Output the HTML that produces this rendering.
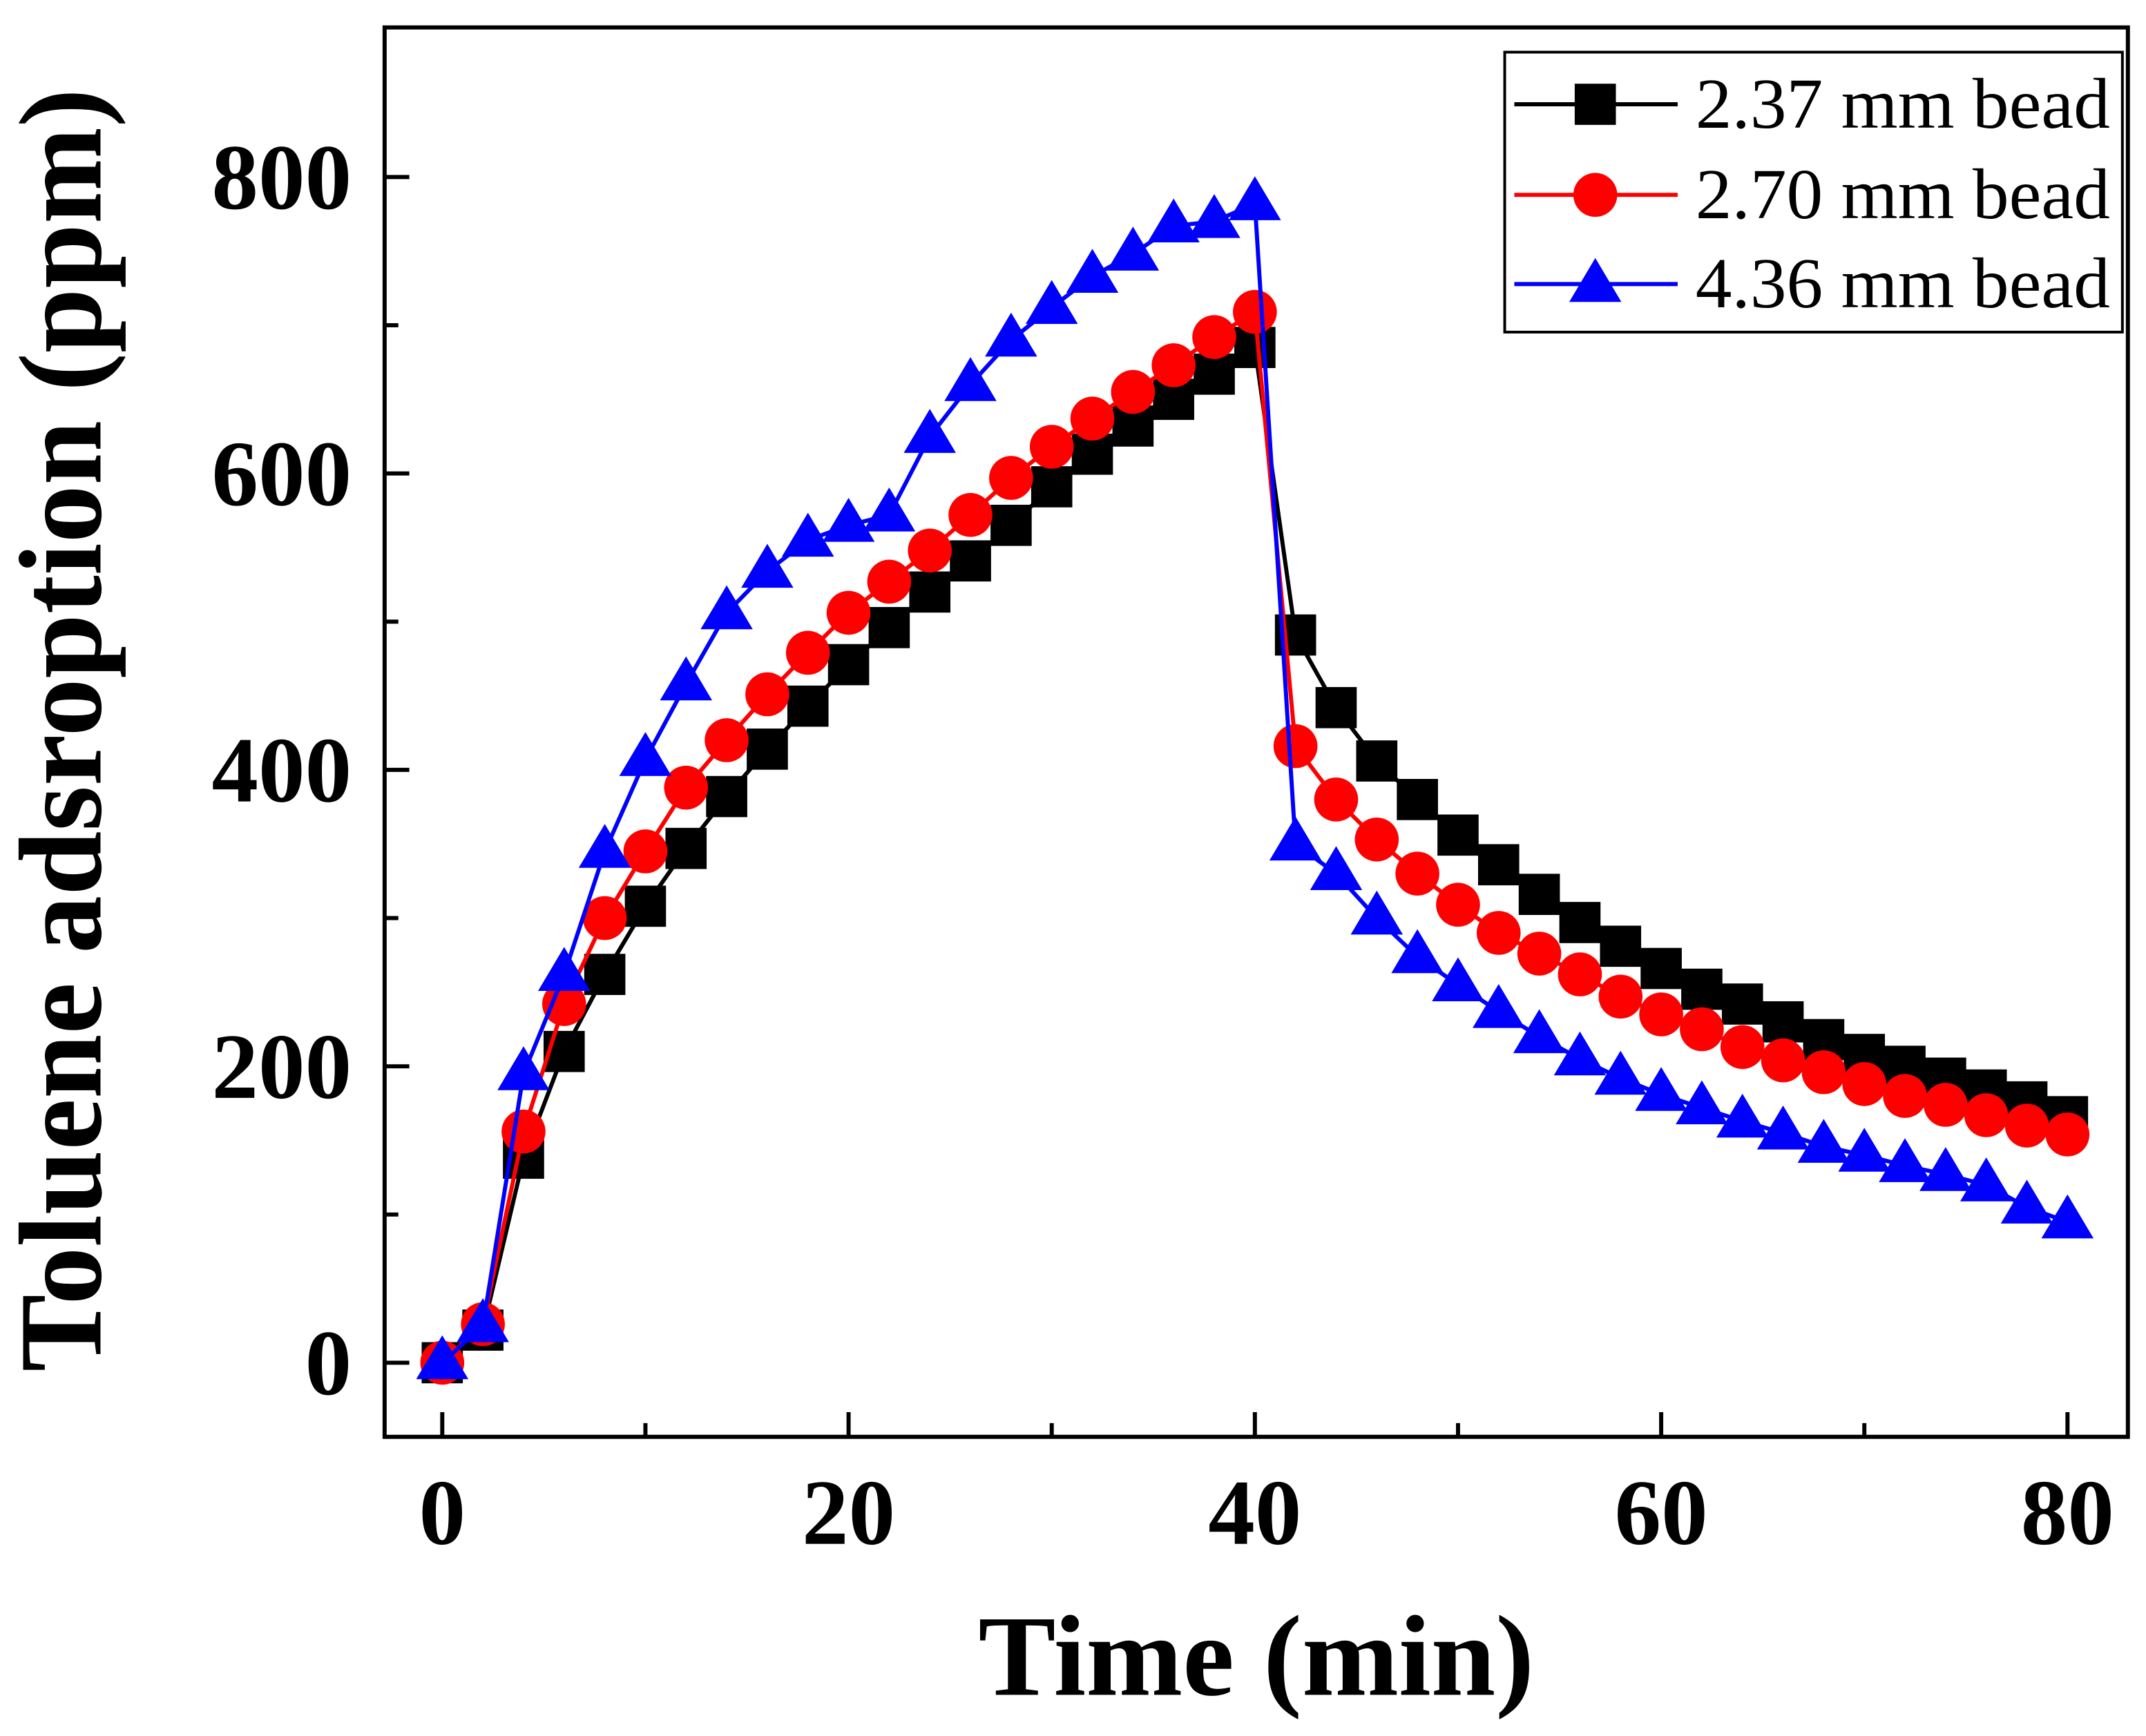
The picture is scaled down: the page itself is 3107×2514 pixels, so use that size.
<!DOCTYPE html>
<html><head><meta charset="utf-8"><style>html,body{margin:0;padding:0;background:#fff}svg{display:block}</style></head>
<body>
<svg id="chart" xmlns="http://www.w3.org/2000/svg" width="3107" height="2514" viewBox="0 0 1563 1265" font-family="'Liberation Serif', serif">
<rect x="0" y="0" width="1563" height="1265" fill="#fff"/>
<g id="plot"></g>
<rect x="280" y="20" width="1270" height="1027" fill="none" stroke="#000" stroke-width="3"/>
<g id="axes"></g>
<text x="915" y="1235" text-anchor="middle" font-size="84" font-weight="bold" textLength="405" lengthAdjust="spacingAndGlyphs">Time (min)</text>
<text transform="translate(73,532) rotate(-90)" text-anchor="middle" font-size="86" font-weight="bold" textLength="935" lengthAdjust="spacingAndGlyphs">Toluene adsroption (ppm)</text>
<g>
<rect x="1096" y="38" width="450" height="204" fill="#fff" stroke="#000" stroke-width="2"/>
<g>
<line x1="1103" y1="76" x2="1222" y2="76" stroke="#000" stroke-width="3"/>
<rect x="1147" y="61" width="30" height="30" fill="#000"/>
<text x="1235" y="93" font-size="52" textLength="302" lengthAdjust="spacingAndGlyphs">2.37 mm bead</text></g>
<g>
<line x1="1103" y1="142" x2="1222" y2="142" stroke="#f00" stroke-width="3"/>
<circle cx="1162" cy="142" r="16" fill="#f00"/>
<text x="1235" y="159" font-size="52" textLength="302" lengthAdjust="spacingAndGlyphs">2.70 mm bead</text></g>
<g>
<line x1="1103" y1="207" x2="1222" y2="207" stroke="#00f" stroke-width="3"/>
<polygon points="1162,188 1181,220 1143,220" fill="#00f"/>
<text x="1235" y="224" font-size="52" textLength="302" lengthAdjust="spacingAndGlyphs">4.36 mm bead</text></g>
</g>
</svg>
<script>
const times = [0,2,4,6,8,10,12,14,16,18,20,22,24,26,28,30,32,34,36,38,40,42,44,46,48,50,52,54,56,58,60,62,64,66,68,70,72,74,76,78,80];
const bead237 = [0,22,138,210,262,308,347,382,414,443,471,496,520,541,565,591,613,632,650,667,685,491,442,406,380,356,336,316,297,281,266,252,242,230,218,208,200,192,184,176,166];
const bead270 = [0,26,156,242,300,345,388,420,451,479,506,527,548,572,597,618,637,655,673,692,709,416,380,353,330,309,290,276,262,247,235,225,213,204,196,188,180,174,167,160,154];
const bead436 = [0,25,195,262,345,407,458,506,534,555,565,572,625,660,690,712,733,748,767,770,782,350,330,300,274,255,237,220,205,192,181,172,163,155,146,140,133,127,120,105,95];
const xTicks = [0,20,40,60,80];
const yTicks = [0,200,400,600,800];
const NS="http://www.w3.org/2000/svg";
function xs(v){return 322+(v/80)*1184;}
function ys(v){return 993-v*1.08;}
function mk(tag,attrs,parent){const e=document.createElementNS(NS,tag);for(const k in attrs)e.setAttribute(k,attrs[k]);parent.appendChild(e);return e;}
const axes=document.getElementById('axes');
const plot=document.getElementById('plot');
xTicks.forEach(v=>{
  const t=mk('line',{x1:xs(v),x2:xs(v),y1:1047,y2:1029,stroke:'#000','stroke-width':3},axes);
  
  
  const l=mk('text',{x:xs(v),y:1125,'text-anchor':'middle','font-size':68,'font-weight':'bold'},axes);
  l.textContent=v;
  
  
});
for(let v=10;v<80;v+=20){
  const t=mk('line',{x1:xs(v),x2:xs(v),y1:1047,y2:1037,stroke:'#000','stroke-width':3},axes);
  
  
}
yTicks.forEach(v=>{
  const t=mk('line',{x1:280,x2:298,y1:ys(v),y2:ys(v),stroke:'#000','stroke-width':3},axes);
  
  
  const l=mk('text',{x:256,y:ys(v)+23,'text-anchor':'end','font-size':68,'font-weight':'bold'},axes);
  l.textContent=v;
  
  
});
for(let v=100;v<=700;v+=200){
  const t=mk('line',{x1:280,x2:290,y1:ys(v),y2:ys(v),stroke:'#000','stroke-width':3},axes);
  
  
}
function series(vals,color,shape,name){
  const g=mk('g',{},plot);
  
  
  const pl=mk('polyline',{points:times.map((t,i)=>xs(t)+','+ys(vals[i])).join(' '),fill:'none',stroke:color,'stroke-width':3},g);
  
  
  times.forEach((t,i)=>{
    const x=xs(t),y=ys(vals[i]);let m;
    if(shape==='sq')m=mk('rect',{x:x-15,y:y-15,width:30,height:30,fill:color},g);
    else if(shape==='ci')m=mk('circle',{cx:x,cy:y,r:16,fill:color},g);
    else m=mk('polygon',{points:`${x},${y-20} ${x+19},${y+12} ${x-19},${y+12}`,fill:color},g);
    
    
  });
}
series(bead237,'#000','sq','series-2-37mm');
series(bead270,'#f00','ci','series-2-70mm');
series(bead436,'#00f','tr','series-4-36mm');
</script>
</body></html>
